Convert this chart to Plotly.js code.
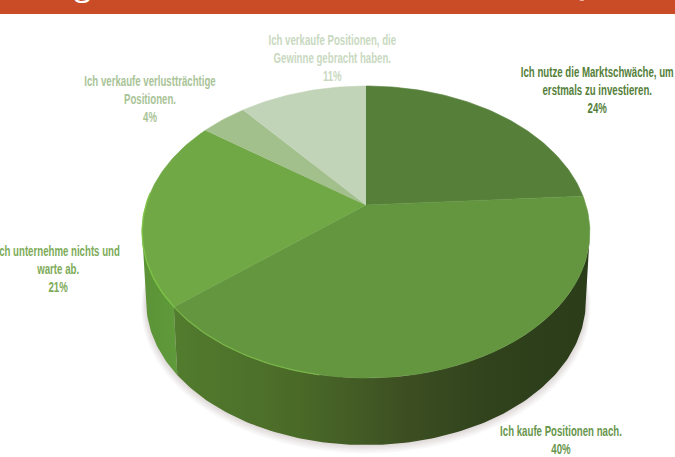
<!DOCTYPE html>
<html lang="de">
<head>
<meta charset="utf-8">
<script src="https://cdn.plot.ly/plotly-3.0.1.min.js"></script>
<style>
  html, body { margin: 0; padding: 0; background: #fff; overflow: hidden; }
  /* Slice labels are set in a tightly condensed cut */
  .condensed .annotation:nth-child(-n+6) .annotation-text { transform-box: fill-box; transform-origin: center; transform: scaleX(0.7); }
</style>
</head>
<body>
<div id="chart" style="width:675px;height:457px"></div>
<script>
// Survey answers, clockwise from twelve o'clock
const answers = [
  ["Ich nutze die Marktschwäche, um", "erstmals zu investieren."],
  ["Ich kaufe Positionen nach."],
  ["Ich unternehme nichts und", "warte ab."],
  ["Ich verkaufe verlustträchtige", "Positionen."],
  ["Ich verkaufe Positionen, die", "Gewinne gebracht haben."]
];
const shares = [24, 40, 21, 4, 11];

const faceColors  = ["#56803a", "#63963f", "#70a845", "#a2c08b", "#c2d4b8"];
const labelColors = ["#55803a", "#68964c", "#7dab58", "#a9c497", "#c9d9bf"];
const labelX = [597, 561, 58, 150, 332];
const labelY = [90, 440, 269, 99, 58];

// Side wall shading, left to right across each visible wall piece
const wallShade40 = [[0, "#527c2e"], [0.3, "#4a6a28"], [0.55, "#3d4f22"], [0.75, "#30431c"], [1, "#2b3c19"]];
const wallShade21 = [[0, "#5b9336"], [1, "#5f9a3b"]];

// Perspective disc: far side foreshortened, near side enlarged
const CX = 366, CY = 205, TILT = 0.185;
const topDisc = { a: 220, b: 141, dy: 0 };
const baseDisc = { a: 216, b: 138.6, dy: 70 };

function project(deg, disc) {
  const t = deg * Math.PI / 180;
  const X = Math.sin(t), Y = Math.cos(t), w = 1 + TILT * Y;
  return [CX + disc.a * X / w, CY + disc.dy - disc.b * Y / w];
}
function arc(from, to, disc) {
  const pts = [], n = Math.max(2, Math.ceil(Math.abs(to - from)));
  for (let i = 0; i <= n; i++) pts.push(project(from + (to - from) * i / n, disc));
  return pts;
}
function polygon(pts, extra) {
  return Object.assign({
    type: "scatter", mode: "lines", hoverinfo: "skip", showlegend: false,
    x: pts.map(p => p[0]), y: pts.map(p => p[1]), fill: "toself"
  }, extra);
}

const total = shares.reduce((s, v) => s + v, 0);
const bounds = [0];
shares.forEach(v => bounds.push(bounds[bounds.length - 1] + v / total * 360));

const traces = [];

// Soft contact shadow below the base
for (let k = 1; k <= 6; k++) {
  const ring = { a: baseDisc.a + k * 0.8, b: baseDisc.b + k * 0.4, dy: baseDisc.dy + k * 0.9 };
  traces.push(polygon(arc(0, 360, ring), { line: { width: 0 }, fillcolor: "rgba(60,50,50,0.028)" }));
}

// Visible side wall: from the right silhouette point to the left one
const edge = Math.acos(-TILT) * 180 / Math.PI;
function wall(from, to, shade) {
  const pts = arc(from, to, topDisc).concat(arc(to, from, baseDisc));
  return polygon(pts, {
    line: { width: 0 },
    fillgradient: { type: "horizontal", colorscale: shade }
  });
}
traces.push(wall(bounds[2], 360 - edge, wallShade21));
traces.push(wall(edge, bounds[2], wallShade40));

// Top face slices
shares.forEach((v, i) => {
  const pts = [project(0, { a: 0, b: 0, dy: 0 })].concat(arc(bounds[i], bounds[i + 1], topDisc));
  traces.push(polygon(pts, {
    name: answers[i].join(" "),
    line: { width: 0.6, color: faceColors[i] },
    fillcolor: faceColors[i]
  }));
});

// Light catching the near rim
const rim = (from, to, color, width) => {
  const pts = arc(from, to, topDisc);
  return {
    type: "scatter", mode: "lines", hoverinfo: "skip", showlegend: false,
    x: pts.map(p => p[0]), y: pts.map(p => p[1]), line: { color, width }
  };
};
traces.push(rim(190, bounds[2], "rgba(125,190,72,0.75)", 1.3));
traces.push(rim(bounds[2], 275, "rgba(125,195,70,0.9)", 1.5));

const annotations = answers.map((lines, i) => ({
  xref: "x", yref: "y", x: labelX[i], y: labelY[i],
  xanchor: "center", yanchor: "middle", align: "center", showarrow: false,
  text: lines.concat(shares[i] + "%").join("<br>"),
  font: { family: "'Liberation Sans Narrow', 'Liberation Sans', sans-serif", size: 13.8, color: labelColors[i], weight: 700 }
}));

// Heading: only the lower edge of these glyphs falls on the page
const headingGlyphs = [["g", 82], ["(Q", 570], [")", 668]];
headingGlyphs.forEach(([text, x]) => annotations.push({
  xref: "x", yref: "y", x, y: 0, xanchor: "center", yanchor: "bottom", yshift: -6,
  showarrow: false, text,
  font: { family: "'Open Sans', sans-serif", size: 32, color: "#ffffff" }
}));

const layout = {
  width: 675, height: 457,
  margin: { l: 0, r: 0, t: 0, b: 0 },
  paper_bgcolor: "#ffffff", plot_bgcolor: "#ffffff",
  showlegend: false,
  xaxis: { range: [0, 675], visible: false, fixedrange: true },
  yaxis: { range: [457, 0], visible: false, fixedrange: true },
  shapes: [{
    type: "rect", layer: "below", xref: "paper", yref: "y",
    x0: 0, x1: 1, y0: 0, y1: 14, line: { width: 0 }, fillcolor: "#c94c26"
  }],
  annotations
};

Plotly.newPlot("chart", traces, layout, { displayModeBar: false, staticPlot: true }).then(gd => {
  gd.classList.add("condensed");
});
</script>
</body>
</html>
